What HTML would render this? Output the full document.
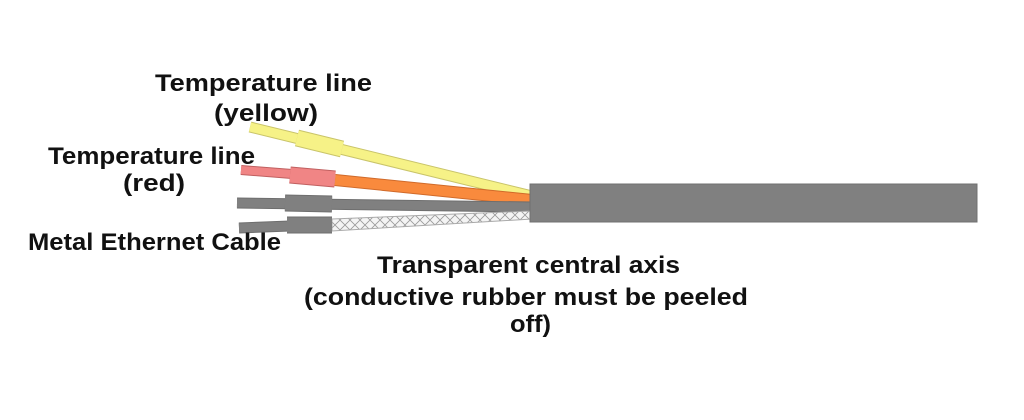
<!DOCTYPE html>
<html><head><meta charset="utf-8"><style>
html,body{margin:0;padding:0;background:#fff;}
svg{display:block}
text{font-family:"Liberation Sans",sans-serif;font-weight:bold;font-size:24px;fill:#111;}
</style></head><body>
<svg width="1024" height="420" viewBox="0 0 1024 420" xmlns="http://www.w3.org/2000/svg">
<defs>
<pattern id="br" width="10" height="10" patternUnits="userSpaceOnUse">
<rect width="10" height="10" fill="#f4f4f4"/>
<path d="M0 0L10 10M10 0L0 10" stroke="#999" stroke-width="0.8"/>
</pattern>
</defs>
<!-- yellow -->
<line x1="250" y1="127" x2="532" y2="196" stroke="#c9c46a" stroke-width="11"/>
<line x1="250" y1="127" x2="532" y2="196" stroke="#f6f287" stroke-width="9"/>
<line x1="297" y1="138" x2="342" y2="149" stroke="#c9c46a" stroke-width="17"/>
<line x1="297" y1="138" x2="342" y2="149" stroke="#f6f287" stroke-width="15"/>
<!-- red/orange -->
<line x1="335" y1="180" x2="532" y2="200" stroke="#d06a2a" stroke-width="12"/>
<line x1="335" y1="180" x2="532" y2="200" stroke="#f98a3d" stroke-width="10"/>
<line x1="241" y1="170" x2="292" y2="174" stroke="#c06060" stroke-width="10"/>
<line x1="241" y1="170" x2="292" y2="174" stroke="#f08585" stroke-width="8"/>
<line x1="290" y1="175" x2="335" y2="179" stroke="#c06060" stroke-width="17"/>
<line x1="290" y1="175" x2="335" y2="179" stroke="#f08585" stroke-width="15"/>
<!-- grey 1 -->
<line x1="237" y1="203" x2="532" y2="207" stroke="#6e6e6e" stroke-width="11"/>
<line x1="237" y1="203" x2="532" y2="207" stroke="#808080" stroke-width="9"/>
<line x1="285" y1="203" x2="332" y2="204" stroke="#6e6e6e" stroke-width="17"/>
<line x1="285" y1="203" x2="332" y2="204" stroke="#808080" stroke-width="15"/>
<!-- braided -->
<polygon points="332,219 532,211 532,219 332,231" fill="url(#br)" stroke="#aaa" stroke-width="1"/>
<line x1="239" y1="228" x2="290" y2="226" stroke="#6e6e6e" stroke-width="11"/>
<line x1="239" y1="228" x2="290" y2="226" stroke="#808080" stroke-width="9"/>
<line x1="287" y1="225" x2="332" y2="225" stroke="#6e6e6e" stroke-width="17"/>
<line x1="287" y1="225" x2="332" y2="225" stroke="#808080" stroke-width="15"/>
<!-- cable -->
<rect x="530" y="184" width="447" height="38" fill="#808080" stroke="#707070" stroke-width="1"/>
<!-- labels -->
<text x="155" y="91" textLength="217" lengthAdjust="spacingAndGlyphs">Temperature line</text>
<text x="214" y="121" textLength="104" lengthAdjust="spacingAndGlyphs">(yellow)</text>
<text x="48" y="164" textLength="207" lengthAdjust="spacingAndGlyphs">Temperature line</text>
<text x="123" y="191" textLength="62" lengthAdjust="spacingAndGlyphs">(red)</text>
<text x="28" y="250" textLength="253" lengthAdjust="spacingAndGlyphs">Metal Ethernet Cable</text>
<text x="377" y="273" textLength="303" lengthAdjust="spacingAndGlyphs">Transparent central axis</text>
<text x="304" y="305" textLength="444" lengthAdjust="spacingAndGlyphs">(conductive rubber must be peeled</text>
<text x="510" y="332" textLength="41" lengthAdjust="spacingAndGlyphs">off)</text>
</svg>
</body></html>
